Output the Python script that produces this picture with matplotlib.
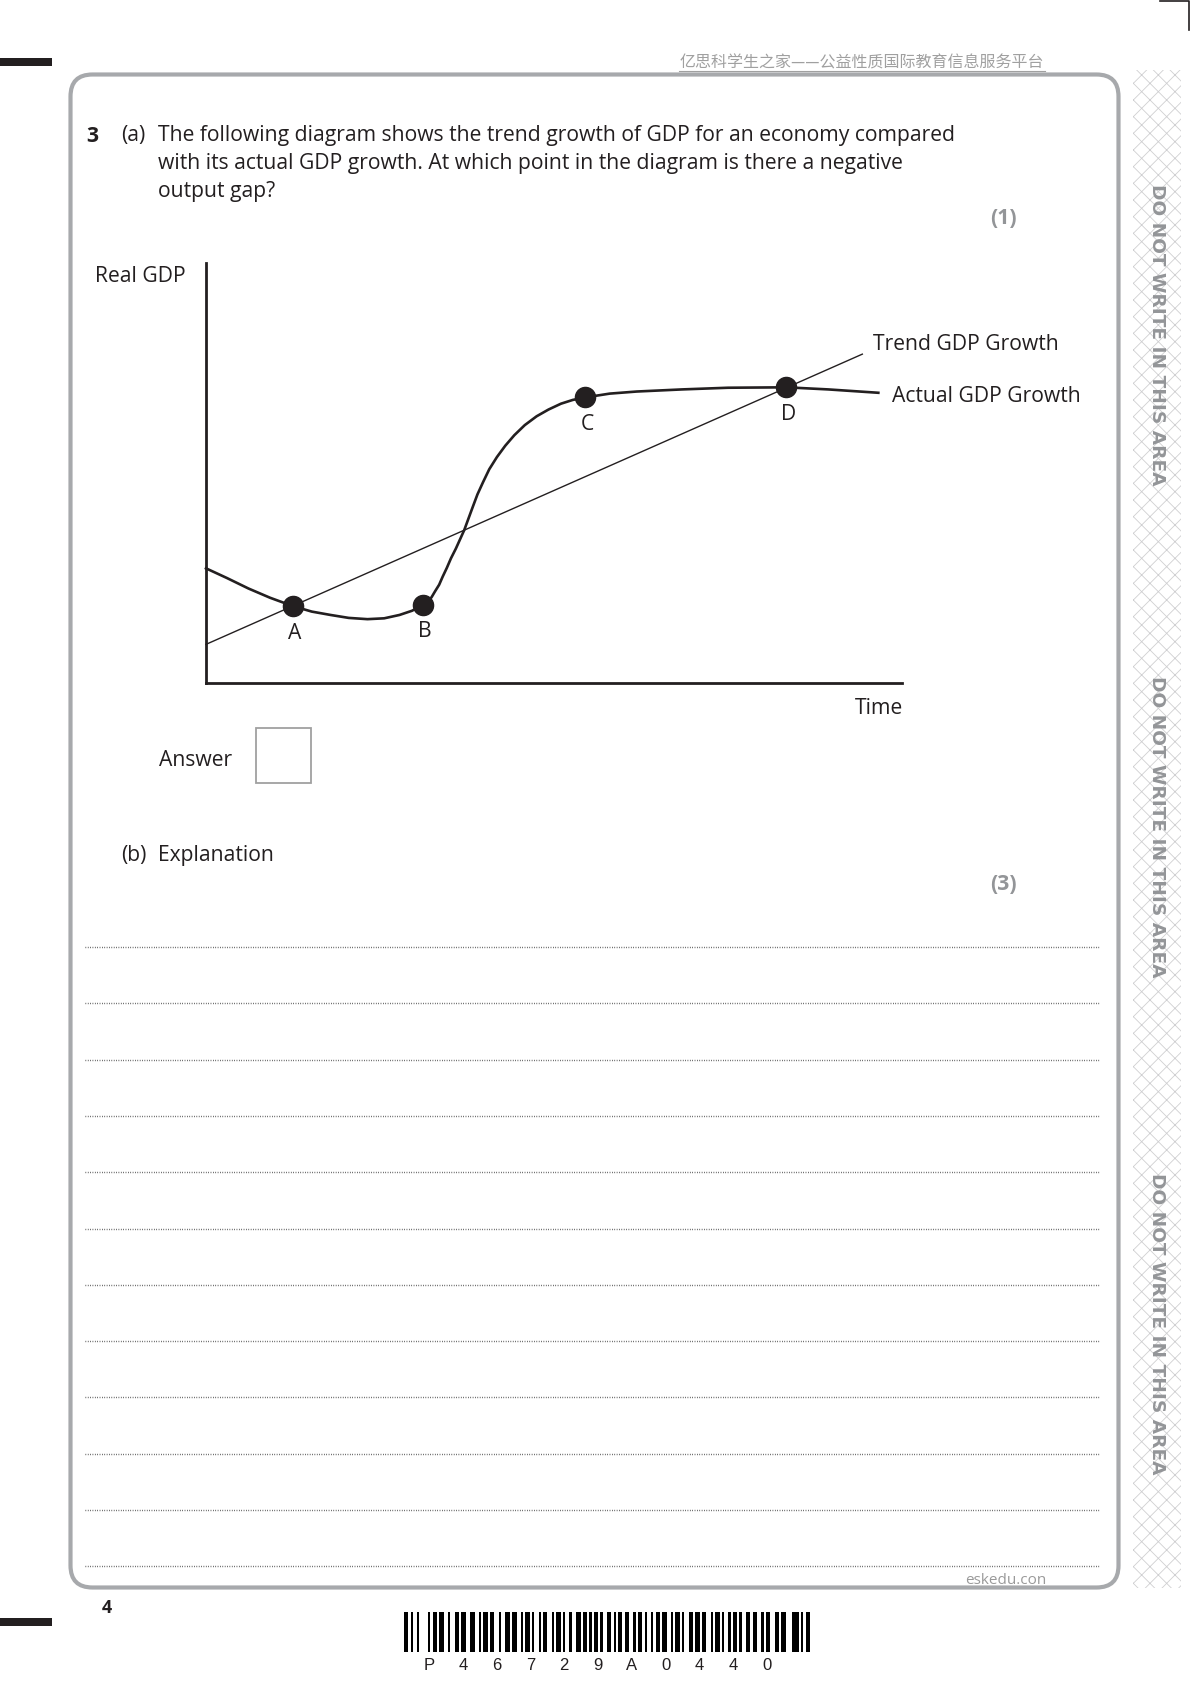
import numpy as np
import matplotlib
matplotlib.use('Agg')
import matplotlib.pyplot as plt
from matplotlib.patches import Rectangle, FancyBboxPatch

plt.rcParams['font.family'] = ['Open Sans', 'DejaVu Sans']
plt.rcParams['hatch.linewidth'] = 0.6

# chart data (time / real GDP, arbitrary units 0-100)
trend_x = [0, 94.3]
trend_y = [9.2, 78.3]
actual_x = [0, 3.0, 6.1, 9.2, 12.5, 15.2, 17.9, 20.5, 23.2, 25.6, 27.8, 29.6,
            31.2, 31.8, 32.4, 32.9, 33.5, 34.0, 34.6, 35.2, 35.9, 36.5,
            37.1, 37.7, 38.3, 39.0, 39.8, 40.7, 41.8, 43.0, 44.3, 45.8, 47.5, 49.2,
            51.0, 52.7, 54.5, 58.0, 61.9, 68.4, 75.0, 83.4, 89.4, 96.6]
actual_y = [27.3, 25.0, 22.5, 20.3, 18.3, 17.0, 16.2, 15.5, 15.2, 15.4, 16.2, 17.2,
            18.6, 19.4, 20.4, 21.8, 23.4, 25.3, 27.4, 29.7, 32.0, 34.2,
            36.4, 39.1, 41.8, 44.9, 47.8, 50.9, 53.8, 56.5, 59.0, 61.4, 63.5, 65.1,
            66.5, 67.4, 68.0, 68.9, 69.4, 69.9, 70.3, 70.4, 69.9, 69.1]
point_labels = ['A', 'B', 'C', 'D']
point_x = [12.5, 31.2, 54.5, 83.4]
point_y = [18.3, 18.6, 68.0, 70.4]

question_lines = ['The following diagram shows the trend growth of GDP for an economy compared',
                  'with its actual GDP growth. At which point in the diagram is there a negative',
                  'output gap?']
barcode_bits = ('11010010000101101100100110110011001011011001001101100101101001011001'
                '01101001001101101011010011010110110010110100101101100101101001101101'
                '100101101001011010011011001011001101100011101011')
barcode_chars = ['P', '4', '6', '7', '2', '9', 'A', '0', '4', '4', '0']
n_answer_lines = 12

TXT = '#231f20'
GREY = '#939598'
FS = 15.2

fig = plt.figure(figsize=(11.9, 16.84), dpi=100)
pg = fig.add_axes([0, 0, 1, 1])
pg.set_xlim(0, 1190)
pg.set_ylim(1684, 0)
pg.axis('off')

# page furniture
pg.add_patch(Rectangle((0, 58), 52, 8, color='#231f20', lw=0))
pg.add_patch(Rectangle((0, 1618), 52, 8, color='#231f20', lw=0))
pg.plot([1160, 1189, 1189], [1, 1, 30], color='#231f20', lw=1.2)
pg.add_patch(Rectangle((1133, 70), 48, 1518, facecolor='white', edgecolor='#cfcfd1',
                       hatch='xx', lw=0))
pg.add_patch(FancyBboxPatch((70.5, 74.5), 1048, 1513,
                            boxstyle='round,pad=0,rounding_size=22',
                            fill=False, ec='#a7a9ac', lw=3))
for yc in [335, 827, 1324]:
    pg.text(1157, yc, 'DO NOT WRITE IN THIS AREA', rotation=-90, ha='center', va='center',
            color=GREY, fontsize=13.3, fontweight='bold', family=['DejaVu Sans'])

pg.text(862, 63, '亿思科学生之家——公益性质国际教育信息服务平台', ha='center', va='center',
        color='#a0a0a0', fontsize=11.5, family=['Noto Sans CJK SC', 'DejaVu Sans'])
pg.plot([679, 1045], [71, 71], color='#a0a0a0', lw=0.8)

# question text
pg.text(86, 136, '3', fontsize=FS, fontweight='bold', color=TXT, va='center')
pg.text(121, 136, '(a)', fontsize=FS, color=TXT, va='center')
for i, line in enumerate(question_lines):
    pg.text(158, 136 + 28 * i, line, fontsize=FS, color=TXT, va='center')
pg.text(1017, 219, '(1)', fontsize=FS, fontweight='bold', color=GREY, va='center', ha='right')

pg.text(186, 276, 'Real GDP', fontsize=FS, color=TXT, va='center', ha='right')
pg.text(873, 344, 'Trend GDP Growth', fontsize=FS, color=TXT, va='center')
pg.text(892, 396, 'Actual GDP Growth', fontsize=FS, color=TXT, va='center')
pg.text(903, 709, 'Time', fontsize=FS, color=TXT, va='center', ha='right')

pg.text(159, 760, 'Answer', fontsize=FS, color=TXT, va='center')
pg.add_patch(Rectangle((256, 728), 55, 55, fill=False, ec='#a0a0a0', lw=1.3))

pg.text(121, 856, '(b)', fontsize=FS, color=TXT, va='center')
pg.text(158, 856, 'Explanation', fontsize=FS, color=TXT, va='center')
pg.text(1017, 884, '(3)', fontsize=FS, fontweight='bold', color=GREY, va='center', ha='right')

for k in range(n_answer_lines):
    yl = 947 + 56.3 * k
    pg.plot([85, 1100], [yl, yl], color='#333333', lw=1.0, ls=(0, (0.5, 1.2)))

pg.text(1006, 1580, 'eskedu.con', ha='center', va='center', color='#9a9a9a', fontsize=11)
pg.text(107, 1608, '4', fontsize=13, fontweight='bold', color=TXT, va='center', ha='center')

# barcode
bits = np.array([[int(b) for b in barcode_bits]])
pg.imshow(bits, cmap='gray_r', extent=(404, 810, 1652, 1612), aspect='auto',
          interpolation='nearest', vmin=0, vmax=1)
for i, ch in enumerate(barcode_chars):
    pg.text(429 + 33.8 * i, 1665, ch, ha='center', va='center', fontsize=12,
            color=TXT, family=['Liberation Sans', 'DejaVu Sans'])
pg.set_xlim(0, 1190)
pg.set_ylim(1684, 0)

# chart
ax = fig.add_axes([206 / 1190, 1 - 683 / 1684, 696 / 1190, 420 / 1684])
ax.patch.set_alpha(0)
ax.set_xlim(0, 100)
ax.set_ylim(0, 100)
for s in ['top', 'right']:
    ax.spines[s].set_visible(False)
for s in ['left', 'bottom']:
    ax.spines[s].set_linewidth(2.0)
    ax.spines[s].set_color(TXT)
ax.set_xticks([])
ax.set_yticks([])

ax.plot(trend_x, trend_y, color=TXT, lw=1.0, clip_on=False)
ax.plot(actual_x, actual_y, color=TXT, lw=1.9, clip_on=False, solid_joinstyle='round')
ax.plot(point_x, point_y, 'o', color=TXT, markersize=14.5, clip_on=False)
for lab, px, py in zip(point_labels, point_x, point_y):
    ax.annotate(lab, (px, py), xytext=(2, -27), textcoords='offset pixels',
                ha='center', va='center', fontsize=FS, color=TXT)

fig.savefig('out.png', dpi=100)
